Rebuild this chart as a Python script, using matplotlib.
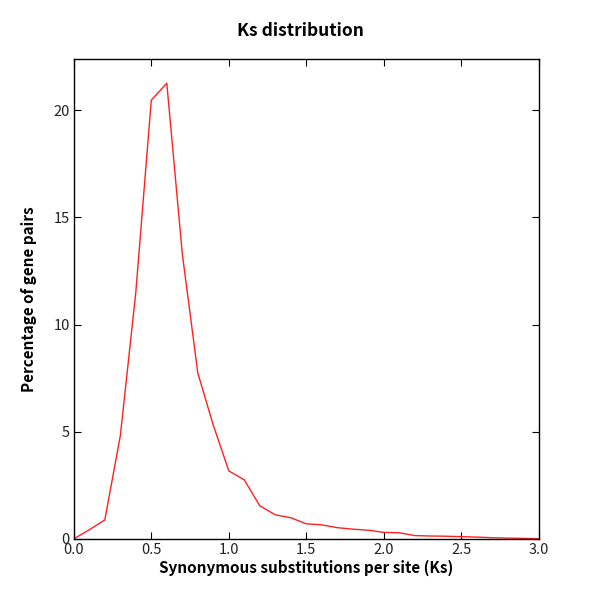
import matplotlib
matplotlib.use('Agg')
import matplotlib.pyplot as plt

# Ks bins and percentage of gene pairs
KS = [0.0, 0.1, 0.2, 0.3, 0.4, 0.5, 0.6, 0.7, 0.8, 0.9, 1.0,
      1.1, 1.2, 1.3, 1.4, 1.5, 1.6, 1.7, 1.8, 1.9, 2.0,
      2.1, 2.2, 2.3, 2.4, 2.5, 2.6, 2.7, 2.8, 2.9, 3.0]
PCT = [0.0, 0.42, 0.88, 4.8, 11.5, 20.47, 21.26, 13.3, 7.74, 5.3, 3.17,
       2.75, 1.54, 1.12, 0.98, 0.7, 0.65, 0.52, 0.45, 0.4, 0.3,
       0.28, 0.15, 0.13, 0.12, 0.1, 0.08, 0.05, 0.03, 0.02, 0.0]

XTICKS = [0.0, 0.5, 1.0, 1.5, 2.0, 2.5, 3.0]
YTICKS = [0, 5, 10, 15, 20]

plt.rcParams['font.family'] = ['Noto Sans CJK KR', 'DejaVu Sans']

fig = plt.figure(figsize=(6, 6), dpi=100)
ax = fig.add_axes([0.123, 0.102, 0.775, 0.800])

ax.plot(KS, PCT, color='#ff2020', linewidth=1.0)

ax.set_xlim(0, 3.0)
ax.set_ylim(0, 22.4)
ax.set_xticks(XTICKS)
ax.set_xticklabels([f'{v:.1f}' for v in XTICKS])
ax.set_yticks(YTICKS)
ax.tick_params(direction='in', top=True, right=True, length=5, labelsize=10.5, pad=3,
               labelcolor='#222222')
for lbl in ax.get_xticklabels() + ax.get_yticklabels():
    lbl.set_fontweight('light')
for s in ax.spines.values():
    s.set_linewidth(1.0)

ax.set_xlabel('Synonymous substitutions per site (Ks)', fontsize=11, fontweight='bold', labelpad=2)
ax.set_ylabel('Percentage of gene pairs', fontsize=11, fontweight='bold', labelpad=12)
fig.suptitle('Ks distribution', fontsize=12.5, fontweight='bold', y=0.963)

fig.savefig('out.png', dpi=100)
